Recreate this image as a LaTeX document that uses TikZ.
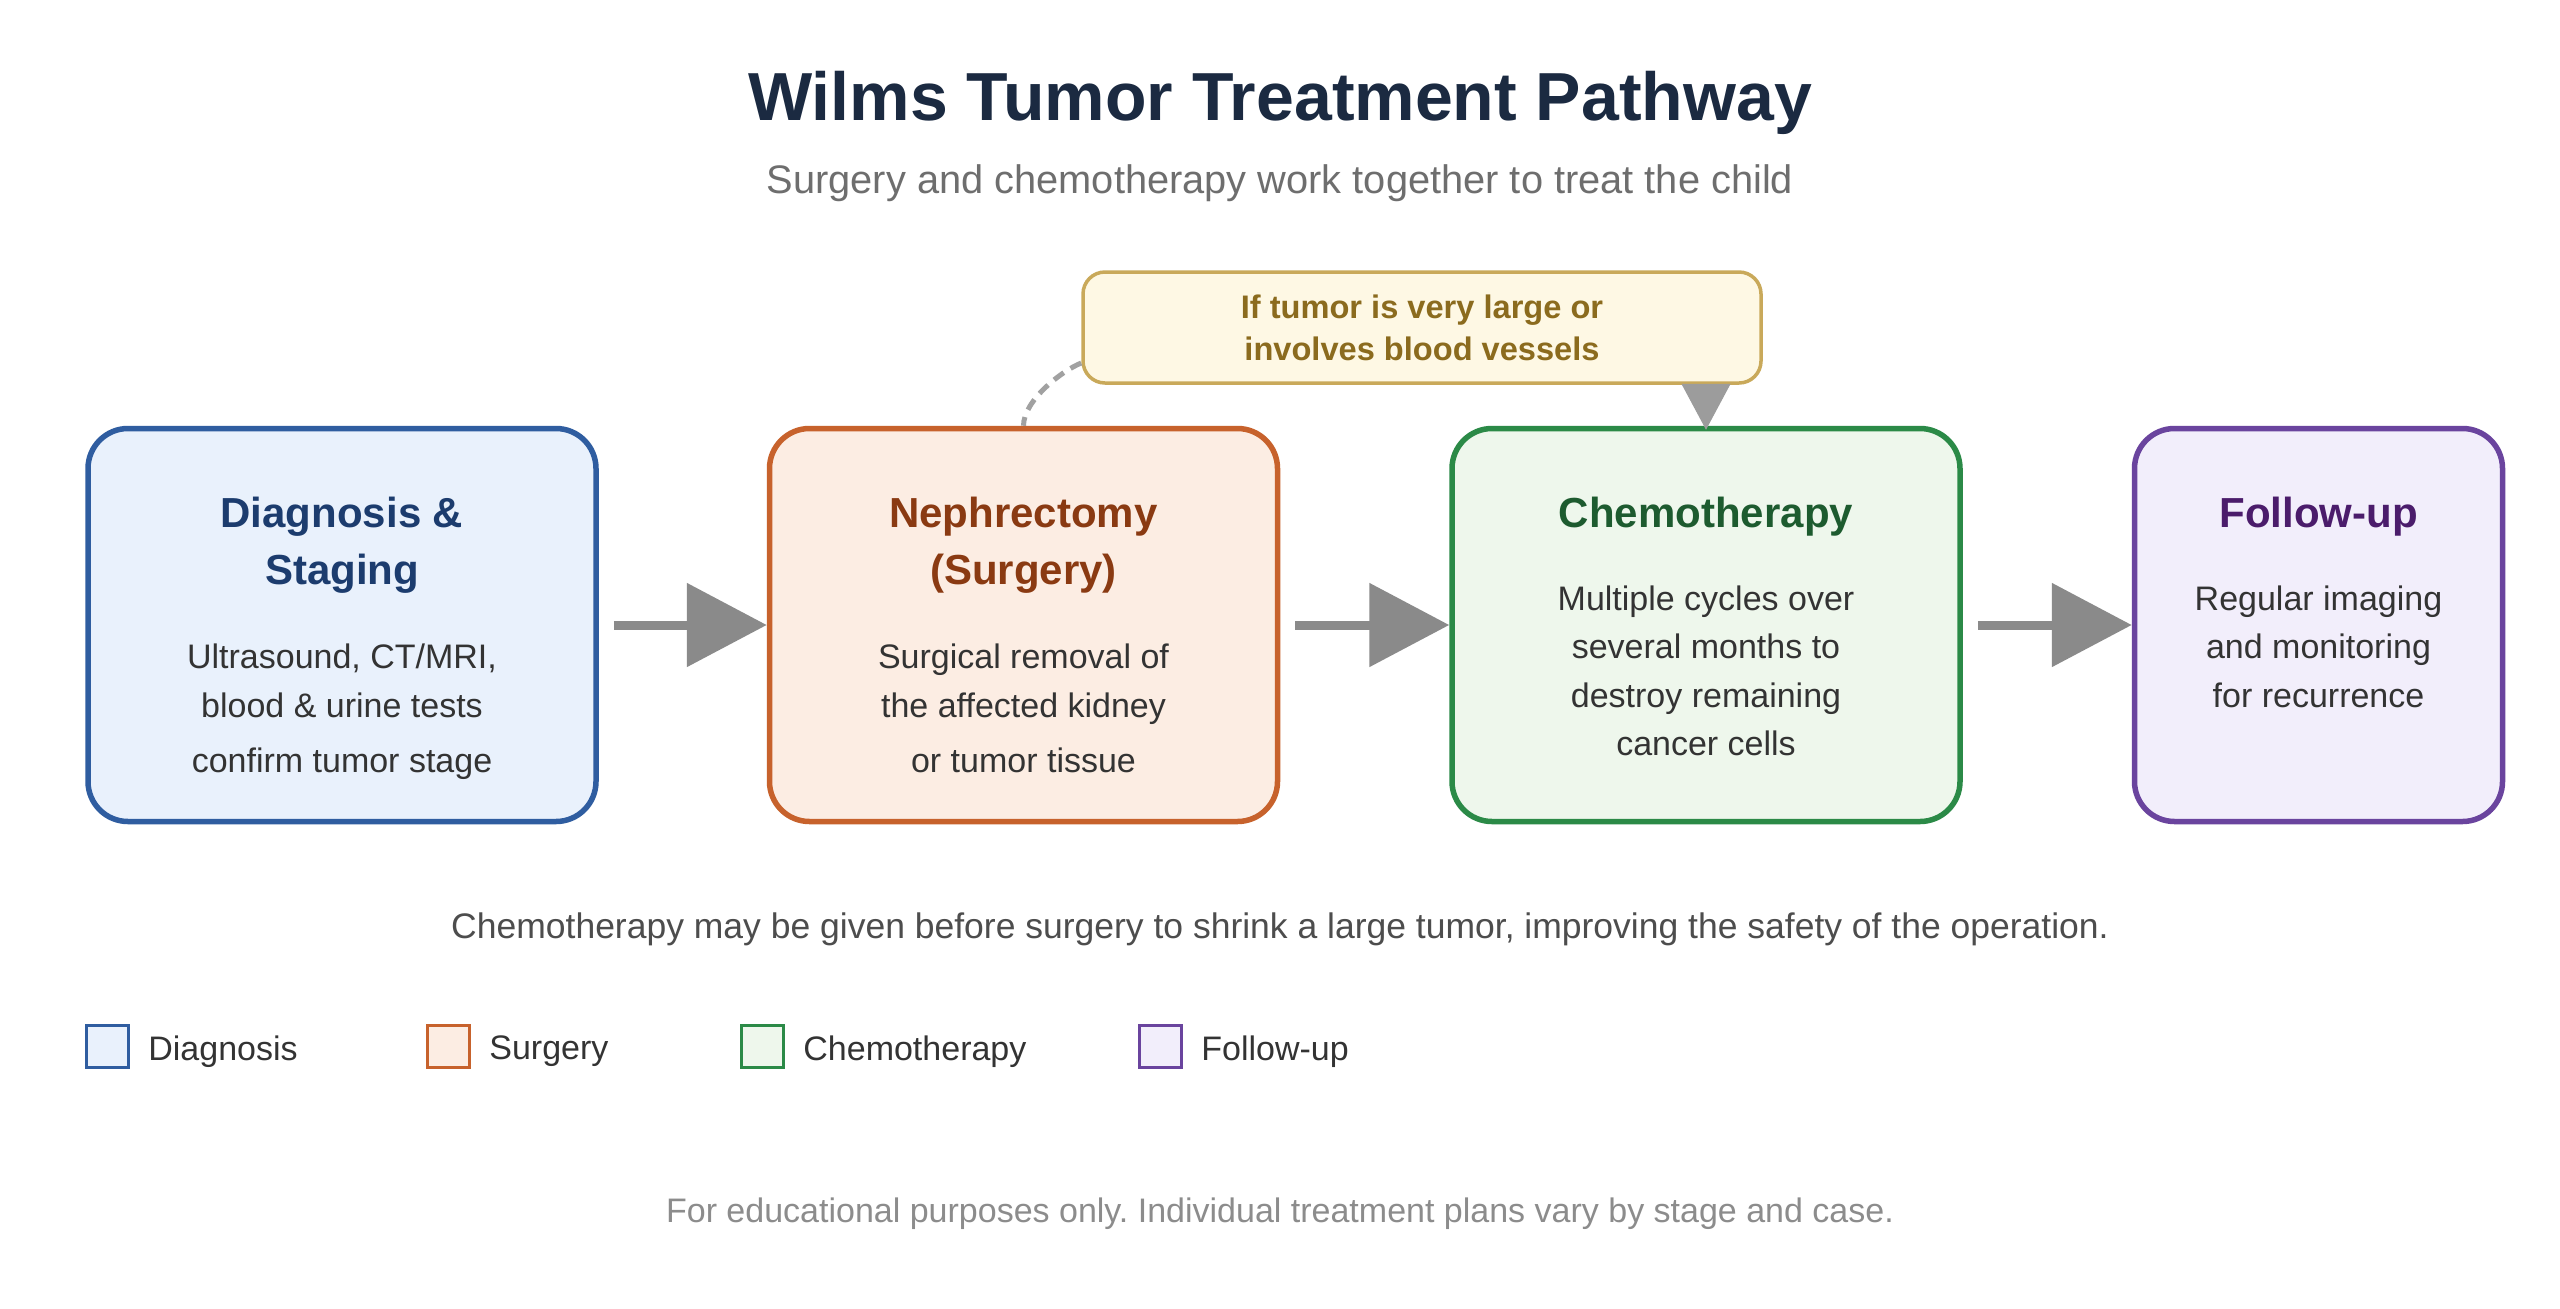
\documentclass[tikz,border=0pt]{standalone}
\usepackage{fontspec}
\setmainfont{Liberation Sans}
\frenchspacing
\usepackage{tikz}
\usetikzlibrary{positioning, arrows.meta}
\definecolor{titleink}{HTML}{1B2A41}
\definecolor{subink}{HTML}{6E6E6E}
\definecolor{bodyink}{HTML}{333333}
\definecolor{noteink}{HTML}{4D4D4D}
\definecolor{footink}{HTML}{8C8C8C}
\definecolor{arrowgray}{HTML}{8A8A8A}
\definecolor{diagline}{HTML}{2F5DA0}
\definecolor{diagfill}{HTML}{E9F1FC}
\definecolor{diagink}{HTML}{1C3C6E}
\definecolor{surgline}{HTML}{C7622C}
\definecolor{surgfill}{HTML}{FCEDE3}
\definecolor{surgink}{HTML}{8A3A12}
\definecolor{chemoline}{HTML}{2B8A47}
\definecolor{chemofill}{HTML}{EEF7EC}
\definecolor{chemoink}{HTML}{1D5B2F}
\definecolor{followline}{HTML}{6A449E}
\definecolor{followfill}{HTML}{F2EEFB}
\definecolor{followink}{HTML}{4B1C6B}
\definecolor{calloutline}{HTML}{C9A95A}
\definecolor{calloutfill}{HTML}{FEF8E4}
\definecolor{calloutink}{HTML}{8B6B1E}
\tikzset{
	maintitle/.style={anchor=base, inner sep=0pt, text=titleink, font=\fontsize{34}{40}\selectfont\bfseries}
}
\tikzset{
	subtitle/.style={anchor=base, inner sep=0pt, text=subink, font=\fontsize{19.9}{24}\selectfont}
}
\tikzset{
	stagebox/.style={rounded corners=20pt, line width=2.75pt, minimum width=254pt, minimum height=196.5pt},
	stagetitle/.style={anchor=north, align=center, inner sep=0pt, font=\fontsize{21}{28.5}\selectfont\bfseries},
	stagetext/.style={anchor=north, align=center, inner sep=0pt, text=bodyink, font=\fontsize{17}{24.25}\selectfont},
	flowarrow/.style={draw=arrowgray, line width=4.5pt, shorten <=7.5pt, -{Triangle[length=40pt,width=41pt]}},
	callout/.style={draw=calloutline, fill=calloutfill, line width=1.75pt, rounded corners=11pt,
		minimum width=339pt, minimum height=55.5pt, align=center, text=calloutink,
		font=\fontsize{16.3}{21}\selectfont\bfseries},
	pointer/.style={draw=arrowgray!85, line width=0.5pt, -{Triangle[length=23pt,width=24.5pt]}},
	dashlink/.style={draw=arrowgray!80, line width=2.5pt, dash pattern=on 6pt off 4pt},
	legendbox/.style={line width=1.5pt, minimum size=21pt, inner sep=0pt},
	legendtext/.style={anchor=west, inner sep=0pt, yshift=-2.5pt, text=bodyink, font=\fontsize{17}{20}\selectfont}
}
\tikzset{
	notetext/.style={anchor=base, inner sep=0pt, text=noteink, font=\fontsize{17.75}{20}\selectfont}
}
\tikzset{
	foottext/.style={anchor=base, inner sep=0pt, text=footink, font=\fontsize{17}{20}\selectfont}
}

\begin{document}
\begin{tikzpicture}[x=0.5pt, y=-0.5pt]
  \useasboundingbox (0,0) rectangle (2560,1308);
  \fill[white] (0,0) rectangle (2560,1308);
  \node[maintitle] (title) at (1280,120) {Wilms Tumor Treatment Pathway};
  \node[subtitle] (sub) at (1280,193) {Surgery and chemotherapy work together to treat the child};
  \node[stagebox, draw=diagline, fill=diagfill] (diag) at (342,625) {};
  \node[stagebox, draw=surgline, fill=surgfill] (surg) at (1023.5,625) {};
  \node[stagebox, draw=chemoline, fill=chemofill] (chemo) at (1706,625) {};
  \node[stagebox, draw=followline, fill=followfill, minimum width=184pt] (follow) at (2318.5,625) {};
  \node[stagetitle, text=diagink, below=35.3pt of diag.north] (diagT) {Diagnosis \&\\Staging};
  \node[stagetitle, text=surgink, below=35.3pt of surg.north] (surgT) {Nephrectomy\\(Surgery)};
  \node[stagetitle, text=chemoink, below=35.3pt of chemo.north] (chemoT) {Chemotherapy};
  \node[stagetitle, text=followink, below=35.3pt of follow.north] (followT) {Follow-up};
  \node[stagetext, below=25pt of diagT] (diagB) {Ultrasound, CT/MRI,\\blood \& urine tests\\[3.5pt]confirm tumor stage};
  \node[stagetext, below=25pt of surgT] (surgB) {Surgical removal of\\the affected kidney\\[3.5pt]or tumor tissue};
  \node[stagetext, below=24.5pt of chemoT] (chemoB) {Multiple cycles over\\several months to\\destroy remaining\\cancer cells};
  \node[stagetext, below=24.5pt of followT] (followB) {Regular imaging\\and monitoring\\for recurrence};
  \draw[flowarrow] (diag) -- (surg);
  \draw[flowarrow] (surg) -- (chemo);
  \draw[flowarrow] (chemo) -- (follow);
  \node[callout] (note) at (1422,327.5) {If tumor is very large or\\involves blood vessels};
  \draw[pointer] (chemo.north |- note.south) -- ([yshift=-2pt]chemo.north);
  \draw[dashlink] ([yshift=-17.75pt]note.west) .. controls +(-20,8) and +(0,-25) .. (surg.north);
  \node[notetext] (remark) at (1280,938) {Chemotherapy may be given before surgery to shrink a large tumor, improving the safety of the operation.};
  \node[legendbox, draw=diagline, fill=diagfill] (sq1) at (107.5,1046.5) {};
  \node[legendbox, draw=surgline, fill=surgfill] (sq2) at (448.5,1046.5) {};
  \node[legendbox, draw=chemoline, fill=chemofill] (sq3) at (762.5,1046.5) {};
  \node[legendbox, draw=followline, fill=followfill] (sq4) at (1160.5,1046.5) {};
  \node[legendtext, right=9pt of sq1] (lg1) {Diagnosis};
  \node[legendtext, right=9pt of sq2] (lg2) {Surgery};
  \node[legendtext, right=9pt of sq3] (lg3) {Chemotherapy};
  \node[legendtext, right=9pt of sq4] (lg4) {Follow-up};
  \node[foottext] (foot) at (1280,1222) {For educational purposes only. Individual treatment plans vary by stage and case.};
\end{tikzpicture}
\end{document}
